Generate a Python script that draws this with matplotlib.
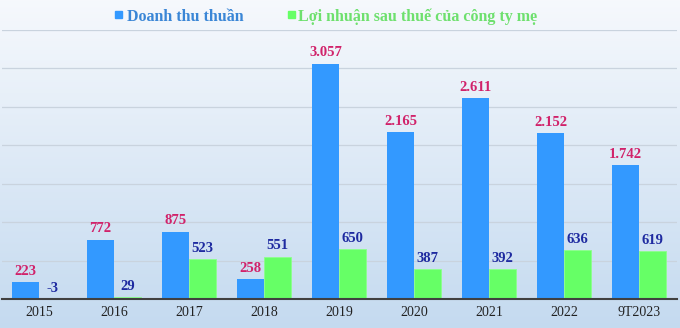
import matplotlib.pyplot as plt
import numpy as np
from matplotlib.patches import Rectangle

years = ["2015", "2016", "2017", "2018", "2019", "2020", "2021", "2022", "9T2023"]
revenue = [223, 772, 875, 258, 3057, 2165, 2611, 2152, 1742]
profit = [-3, 29, 523, 551, 650, 387, 392, 636, 619]

blue = "#3399ff"
green = "#66ff66"
rev_label_color = "#d1226a"
prof_label_color = "#1e2aa0"
serif = ["Liberation Serif", "DejaVu Serif"]

W, H = 680, 328
fig = plt.figure(figsize=(W / 100, H / 100), dpi=100)

# soft vertical gradient behind everything
bg = fig.add_axes([0, 0, 1, 1], zorder=0)
top = np.array([0.965, 0.975, 0.99])
bot = np.array([0.77, 0.855, 0.94])
t = np.linspace(0, 1, 256)[:, None]
grad = top * (1 - t) + bot * t
bg.imshow(grad[:, None, :].repeat(2, axis=1), aspect="auto", extent=[0, 1, 0, 1])
bg.set_axis_off()

ax = fig.add_axes([1.5 / W, 29 / H, 675 / W, 269.5 / H], zorder=1)
ax.patch.set_alpha(0)

x = np.arange(len(years))
bw = 0.36
ax.bar(x - 0.18, revenue, bw, color=blue, zorder=3)
ax.bar(x + 0.18, profit, bw, color=green, edgecolor="#8cff8c", linewidth=0.6, zorder=3)

def fmt(v):
    return f"{v:,}".replace(",", ".")

for xi, v in zip(x, revenue):
    ax.annotate(fmt(v), (xi - 0.18, max(v, 0)), xytext=(0, 3), textcoords="offset points",
                ha="center", va="bottom", color=rev_label_color, fontsize=10.5,
                fontweight="bold", family=serif)
for xi, v in zip(x, profit):
    ax.annotate(fmt(v), (xi + 0.18, max(v, 0)), xytext=(0, 3), textcoords="offset points",
                ha="center", va="bottom", color=prof_label_color, fontsize=10.5,
                fontweight="bold", family=serif)

ax.set_xlim(-0.5, len(years) - 0.5)
ax.set_ylim(0, 3500)
ax.set_yticks(np.arange(500, 3501, 500))
ax.yaxis.grid(True, color="#c9d3de", linewidth=0.9, zorder=0)
ax.tick_params(axis="y", left=False, labelleft=False)
ax.set_xticks(x)
ax.set_xticklabels(years, family=serif, fontsize=10, color="#222222")
ax.tick_params(axis="x", length=0, pad=5)
for s in ["top", "right", "left"]:
    ax.spines[s].set_visible(False)
ax.spines["bottom"].set_color("#404040")
ax.spines["bottom"].set_linewidth(1.5)
ax.spines["bottom"].set_zorder(4)

# legend across the top
base = (H - 21) / H
fig.patches.append(Rectangle((115 / W, (H - 18) / H), 7 / W, 7 / H, color=blue,
                             transform=fig.transFigure, zorder=5))
fig.text(127 / W, base, "Doanh thu thuần", color="#3a86d6", fontsize=11.5,
         fontweight="bold", family=serif, va="baseline", ha="left")
fig.patches.append(Rectangle((288 / W, (H - 18) / H), 7 / W, 7 / H, color=green,
                             transform=fig.transFigure, zorder=5))
fig.text(298 / W, base, "Lợi nhuận sau thuế của công ty mẹ", color="#6ee06e",
         fontsize=11.5, fontweight="bold", family=serif, va="baseline", ha="left")

fig.savefig("out.png", dpi=100)
